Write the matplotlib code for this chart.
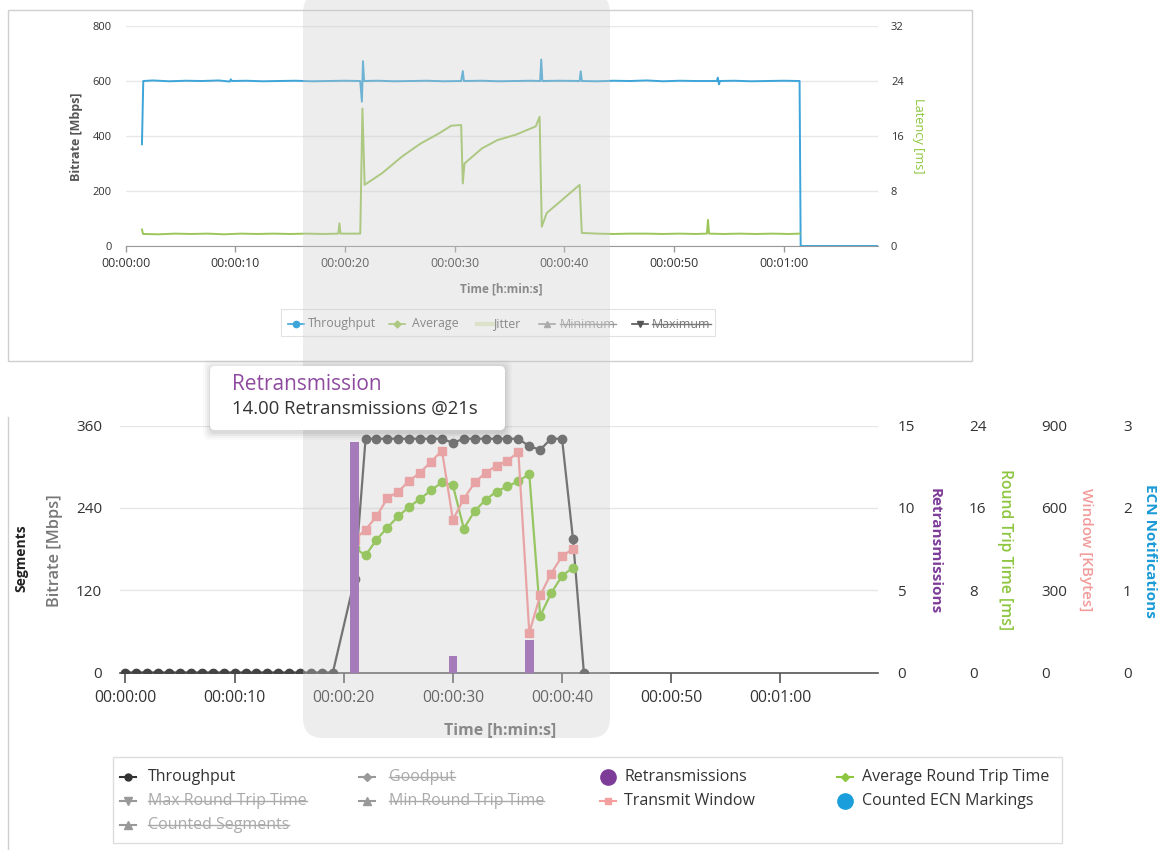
import matplotlib
matplotlib.use("Agg")
import matplotlib.pyplot as plt
from matplotlib.patches import FancyBboxPatch, Rectangle
from matplotlib.lines import Line2D
from matplotlib.transforms import IdentityTransform

plt.rcParams['font.family'] = ['Open Sans', 'DejaVu Sans']

# ---------------- DATA ----------------
time_ticks = [0, 10, 20, 30, 40, 50, 60]
time_labels = ['00:00:00', '00:00:10', '00:00:20', '00:00:30', '00:00:40', '00:00:50', '00:01:00']

# top chart
top_bitrate_ticks = [0, 200, 400, 600, 800]
top_latency_ticks = [0, 8, 16, 24, 32]
top_tp_t = [1.5, 1.62, 2.5, 4.0, 5.5, 7.0, 8.5, 9.5, 9.6, 9.7, 11.0, 12.5, 14.0, 15.5, 17.0,
            18.5, 20.0, 21.4, 21.55, 21.65, 21.75, 23.0, 24.5, 26.0, 27.5, 29.0, 30.6, 30.75,
            30.85, 32.5, 34.0, 35.5, 37.0, 37.8, 37.9, 38.0, 39.5, 41.4, 41.5, 41.6, 43.0, 44.5,
            46.0, 47.5, 49.0, 50.5, 52.0, 53.9, 54.0, 54.1, 54.2, 55.5, 57.0, 58.5, 60.0, 61.45,
            61.55, 68.6]
top_tp_v = [370, 600, 602, 599, 601, 600, 602, 598, 606, 600, 601, 599, 600, 601, 599,
            600, 601, 600, 525, 672, 600, 601, 599, 600, 601, 599, 600, 636,
            600, 601, 599, 600, 601, 600, 678, 600, 601, 600, 635, 600, 599, 601,
            600, 602, 599, 601, 600, 600, 612, 588, 600, 601, 599, 600, 601, 600,
            0, 0]
top_lat_t = [1.5, 1.6, 3.0, 4.5, 6.0, 7.5, 9.0, 10.5, 12.0, 13.5, 15.0, 16.5, 18.0, 19.4, 19.5,
             19.6, 21.4, 21.6, 21.8, 23.4, 25.2, 26.9, 28.6, 29.7, 30.6, 30.75, 30.9, 32.5,
             33.9, 35.6, 37.4, 37.75, 37.95, 38.4, 39.8, 41.4, 41.6, 43.0, 44.5, 46.0, 47.5,
             49.0, 50.5, 52.0, 53.0, 53.1, 53.2, 54.5, 56.0, 57.5, 59.0, 60.5, 61.45]
top_lat_v = [2.4, 1.75, 1.7, 1.8, 1.75, 1.8, 1.7, 1.8, 1.75, 1.8, 1.75, 1.8, 1.75, 1.8, 3.3,
             1.8, 1.8, 20.0, 8.9, 10.6, 13.0, 14.9, 16.4, 17.5, 17.6, 9.1, 12.0, 14.2,
             15.4, 16.2, 17.4, 18.8, 2.8, 4.8, 6.7, 8.9, 1.9, 1.8, 1.75, 1.8, 1.8,
             1.75, 1.8, 1.75, 1.8, 3.8, 1.8, 1.75, 1.8, 1.75, 1.8, 1.75, 1.8]

# bottom chart
bot_bitrate_ticks = [0, 120, 240, 360]
retr_ticks = [0, 5, 10, 15]
rtt_ticks = [0, 8, 16, 24]
win_ticks = [0, 300, 600, 900]
ecn_ticks = [0, 1, 2, 3]
bot_tp_t = [0, 1, 2, 3, 4, 5, 6, 7, 8, 9, 10, 11, 12, 13, 14, 15, 16, 17, 18, 19,
            21, 22, 23, 24, 25, 26, 27, 28, 29, 30, 31, 32, 33, 34, 35, 36, 37, 38, 39, 40, 41, 42]
bot_tp_v = [0, 0, 0, 0, 0, 0, 0, 0, 0, 0, 0, 0, 0, 0, 0, 0, 0, 0, 0, 0,
            136, 341, 341, 341, 341, 341, 341, 341, 341, 335, 341, 341, 341, 341, 341, 341,
            330, 325, 341, 341, 195, 0]
rtt_t = [21, 22, 23, 24, 25, 26, 27, 28, 29, 30, 31, 32, 33, 34, 35, 36, 37, 38, 39, 40, 41]
rtt_v = [12.1, 11.4, 12.9, 14.1, 15.2, 16.1, 16.9, 17.7, 18.5, 18.2, 14.0, 15.7, 16.8, 17.6,
         18.1, 18.6, 19.3, 5.5, 7.7, 9.4, 10.2]
win_t = [21, 22, 23, 24, 25, 26, 27, 28, 29, 30, 31, 32, 33, 34, 35, 36, 37, 38, 39, 40, 41]
win_v = [485, 521, 569, 636, 660, 699, 729, 769, 809, 557, 633, 693, 729, 754, 772, 804,
         145, 281, 361, 424, 451]
retr_t = [21, 30, 37]
retr_v = [14, 1, 2]

top_legend_labels = ['Throughput', 'Average', 'Jitter', 'Minimum', 'Maximum']
bot_legend_labels = ['Throughput', 'Goodput', 'Retransmissions', 'Average Round Trip Time',
                     'Max Round Trip Time', 'Min Round Trip Time', 'Transmit Window',
                     'Counted ECN Markings', 'Counted Segments']

# ---------------- FIGURE ----------------
W, H = 1162, 850
fig = plt.figure(figsize=(W / 100, H / 100), dpi=100)
IDT = IdentityTransform()


def rect(left, top, right, bottom):
    return [left / W, 1 - bottom / H, (right - left) / W, (bottom - top) / H]


def ftext(x, y, s, **kw):
    return fig.text(x / W, 1 - y / H, s, **kw)


def px2pt(p):
    return p * 0.72


C_TP_TOP = '#3da5d9'
C_LAT = '#8dc63f'
C_TP = '#444444'
C_RTT = '#7cc22a'
C_WIN = '#f89090'
C_RETR = '#9350b0'
C_ECN = '#1b9fdc'

# ---- top panel border ----
fig.add_artist(Rectangle((8, H - 361), 964, 351, transform=IDT, fill=False,
                         edgecolor='#cfcfcf', lw=1, zorder=1))

# ---- top chart ----
ax1 = fig.add_axes(rect(125.5, 26, 878, 246))
ax1.set_facecolor('none')
ax1.set_xlim(0, 68.6)
ax1.set_ylim(0, 800)
for s in ['left', 'right', 'top']:
    ax1.spines[s].set_visible(False)
ax1.spines['bottom'].set_color('#999999')
ax1.set_yticks(top_bitrate_ticks)
ax1.set_yticklabels([str(v) for v in top_bitrate_ticks], fontsize=8, color='#333333')
ax1.tick_params(axis='y', length=0, pad=px2pt(14))
ax1.set_xticks(time_ticks)
ax1.set_xticklabels(time_labels, fontsize=9, color='#333333')
ax1.tick_params(axis='x', length=px2pt(6), width=1, color='#999999', pad=px2pt(5))
ax1.yaxis.grid(True, color='#e8e8e8', lw=1)
ax1.set_axisbelow(True)
ax1.plot(top_tp_t, top_tp_v, color=C_TP_TOP, lw=1.4, zorder=3)

ax1b = ax1.twinx()
ax1b.set_ylim(0, 32)
for s in ax1b.spines.values():
    s.set_visible(False)
ax1b.set_yticks(top_latency_ticks)
ax1b.set_yticklabels([str(v) for v in top_latency_ticks], fontsize=8, color='#333333')
ax1b.tick_params(axis='y', length=0, pad=px2pt(13))
ax1b.plot(top_lat_t, top_lat_v, color='#9cc65a', lw=1.4)

ftext(76.5, 136.7, 'Bitrate [Mbps]', rotation=90, fontsize=9, fontweight='bold',
      color='#555555', ha='center', va='center')
ftext(918.5, 135.5, 'Latency [ms]', rotation=270, fontsize=9.2, color=C_LAT,
      ha='center', va='center')
ftext(501, 289, 'Time [h:min:s]', fontsize=8.5, fontweight='bold', color='#666666',
      ha='center', va='center')

# ---- top legend ----
fig.add_artist(Rectangle((281, H - 336), 434, 27, transform=IDT, fill=False,
                         edgecolor='#e2e2e2', lw=0.8, zorder=1))
top_leg_mx = [296, 397, 485, 547, 640]
top_leg_tx = [308, 412, 493, 560, 652]
top_leg_style = [(C_TP_TOP, 'o', 1.2, 4.5), ('#9cc65a', 'D', 1.2, 3.5), ('#e6edc9', None, 3, 0),
                 ('#999999', '^', 1.2, 4.5), ('#555555', 'v', 1.2, 4.5)]
top_leg_tcol = ['#666666', '#666666', '#666666', '#999999', '#777777']
top_leg_struck = [False, False, False, True, True]
top_texts = []
for lab, mx, tx, (col, mk, lw, ms), tc, st in zip(top_legend_labels, top_leg_mx, top_leg_tx,
                                                  top_leg_style, top_leg_tcol, top_leg_struck):
    fig.add_artist(Line2D([mx - 8, mx + 8], [H - 324, H - 324], transform=IDT, color=col, lw=lw,
                          zorder=2))
    if mk:
        fig.add_artist(Line2D([mx], [H - 324], transform=IDT, color=col, marker=mk,
                              markersize=ms, lw=0, zorder=2))
    t = ftext(tx, 324, lab, fontsize=8.9, color=tc, ha='left', va='center')
    top_texts.append((t, st))

# ---- bottom panel border ----
fig.add_artist(Line2D([8, 8], [H - 417, 0], transform=IDT, color='#cfcfcf', lw=1, zorder=1))

# ---- bottom chart ----
ax2 = fig.add_axes(rect(120, 425.7, 878, 672.5))
ax2.set_facecolor('none')
ax2.set_xlim(-0.5, 68.95)
ax2.set_ylim(0, 360)
for s in ['left', 'right', 'top']:
    ax2.spines[s].set_visible(False)
ax2.spines['bottom'].set_color('#555555')
ax2.spines['bottom'].set_linewidth(1.2)
ax2.set_yticks(bot_bitrate_ticks)
ax2.set_yticklabels([str(v) for v in bot_bitrate_ticks], fontsize=11, color='#333333')
ax2.tick_params(axis='y', length=0, pad=px2pt(18))
ax2.set_xticks(time_ticks)
ax2.set_xticklabels(time_labels, fontsize=11.3, color='#333333')
ax2.tick_params(axis='x', length=px2pt(10), width=1.2, color='#555555', pad=px2pt(7))
ax2.yaxis.grid(True, color='#e6e6e6', lw=1)
ax2.set_axisbelow(True)
ax2.plot(bot_tp_t, bot_tp_v, color=C_TP, lw=1.6, marker='o', markersize=6, zorder=3)


def twin(ylim, ticks, pad_px):
    a = ax2.twinx()
    a.set_ylim(*ylim)
    for s in a.spines.values():
        s.set_visible(False)
    a.set_yticks(ticks)
    a.set_yticklabels([str(v) for v in ticks], fontsize=11, color='#333333')
    a.tick_params(axis='y', length=0, pad=px2pt(pad_px))
    return a


ax_rtt = twin((0, 24), rtt_ticks, 91)
ax_win = twin((0, 900), win_ticks, 163)
ax_ret = twin((0, 15), retr_ticks, 19.5)
ax_ecn = twin((0, 3), ecn_ticks, 245)

ax_rtt.plot(rtt_t, rtt_v, color=C_RTT, lw=1.6, marker='o', markersize=6)
ax_win.plot(win_t, win_v, color=C_WIN, lw=1.6, marker='s', markersize=6)
ax_ret.bar(retr_t, retr_v, width=0.8, color=C_RETR)

ftext(21.7, 558, 'Segments', rotation=90, fontsize=10, fontweight='bold', color='#222222',
      ha='center', va='center')
ftext(55, 551, 'Bitrate [Mbps]', rotation=90, fontsize=11.8, fontweight='semibold',
      color='#777777', ha='center', va='center')
ftext(500, 730, 'Time [h:min:s]', fontsize=11.4, fontweight='bold', color='#666666',
      ha='center', va='center')
ftext(935, 551, 'Retransmissions', rotation=270, fontsize=11, fontweight='bold',
      color='#7d3c98', ha='center', va='center')
ftext(1005, 550, 'Round Trip Time [ms]', rotation=270, fontsize=11.3, fontweight='semibold',
      color='#8dc63f', ha='center', va='center')
ftext(1086, 550, 'Window [KBytes]', rotation=270, fontsize=11, fontweight='semibold',
      color='#f29b9b', ha='center', va='center')
ftext(1150, 551, 'ECN Notifications', rotation=270, fontsize=11, fontweight='bold',
      color='#1a9ad6', ha='center', va='center')

# ---- bottom legend ----
fig.add_artist(Rectangle((113, H - 843), 949, 86, transform=IDT, facecolor='white',
                         edgecolor='#dddddd', lw=1, zorder=1))
col_mx = [128, 367, 608, 845]
col_tx = [148, 389, 624, 862]
row_y = [777, 801, 825]
bot_leg_pos = [(0, 0), (0, 1), (0, 2), (0, 3), (1, 0), (1, 1), (1, 2), (1, 3), (2, 0)]
bot_leg_style = [('#333333', 'o', 1.5, 5, True), ('#999999', 'D', 1.5, 4.5, True),
                 ('#7d3c98', 'o', 0, 11, False), (C_LAT, 'D', 1.5, 4.5, True),
                 ('#999999', 'v', 1.5, 5.5, True), ('#999999', '^', 1.5, 5.5, True),
                 ('#f4a0a0', 's', 1.5, 5, True), (C_ECN, 'o', 0, 11, False),
                 ('#999999', '^', 1.5, 5.5, True)]
bot_leg_struck = [False, True, False, False, True, True, False, False, True]
bot_texts = []
for lab, (r, c), (col, mk, lw, ms, line), st in zip(bot_legend_labels, bot_leg_pos,
                                                   bot_leg_style, bot_leg_struck):
    mx, ty = col_mx[c], row_y[r]
    if line:
        fig.add_artist(Line2D([mx - 8, mx + 8], [H - ty, H - ty], transform=IDT, color=col,
                              lw=lw, zorder=2))
    fig.add_artist(Line2D([mx], [H - ty], transform=IDT, color=col, marker=mk,
                          markersize=ms, lw=0, zorder=2))
    t = ftext(col_tx[c], ty, lab, fontsize=11.5, color='#aaaaaa' if st else '#333333',
              ha='left', va='center')
    bot_texts.append((t, st))

# ---- grey highlight overlay ----
fig.add_artist(FancyBboxPatch((303, H - 738), 307, 745, boxstyle='round,pad=0,rounding_size=20',
                              transform=IDT, facecolor=(0.8, 0.8, 0.8), alpha=0.35,
                              edgecolor='none', zorder=5))

# ---- tooltip ----
for i, a in enumerate([0.05, 0.04, 0.03, 0.02]):
    g = 2 + i * 2
    fig.add_artist(FancyBboxPatch((210 - g + 1, H - 430 - g - 2), 295 + 2 * g - 2, 64 + 2 * g,
                                  boxstyle='round,pad=0,rounding_size=6', transform=IDT,
                                  facecolor='black', alpha=a, edgecolor='none', zorder=9))
fig.add_artist(FancyBboxPatch((210, H - 430), 295, 64, boxstyle='round,pad=0,rounding_size=5',
                              transform=IDT, facecolor='white', edgecolor='none', zorder=10))
ftext(232, 384, 'Retransmission', fontsize=15, color='#8e4a9f', ha='left', va='center',
      zorder=11)
ftext(232, 409, '14.00 Retransmissions @21s', fontsize=13.3, color='#333333', ha='left',
      va='center', zorder=11)

# ---- strikethrough for hidden series ----
fig.canvas.draw()
rend = fig.canvas.get_renderer()
for t, st in top_texts + bot_texts:
    if st:
        bb = t.get_window_extent(rend)
        y = bb.y0 + 0.5 * bb.height
        fig.add_artist(Line2D([bb.x0, bb.x1], [y, y], transform=IDT, color=t.get_color(),
                              lw=1, zorder=3))

fig.savefig('out.png', dpi=100)
